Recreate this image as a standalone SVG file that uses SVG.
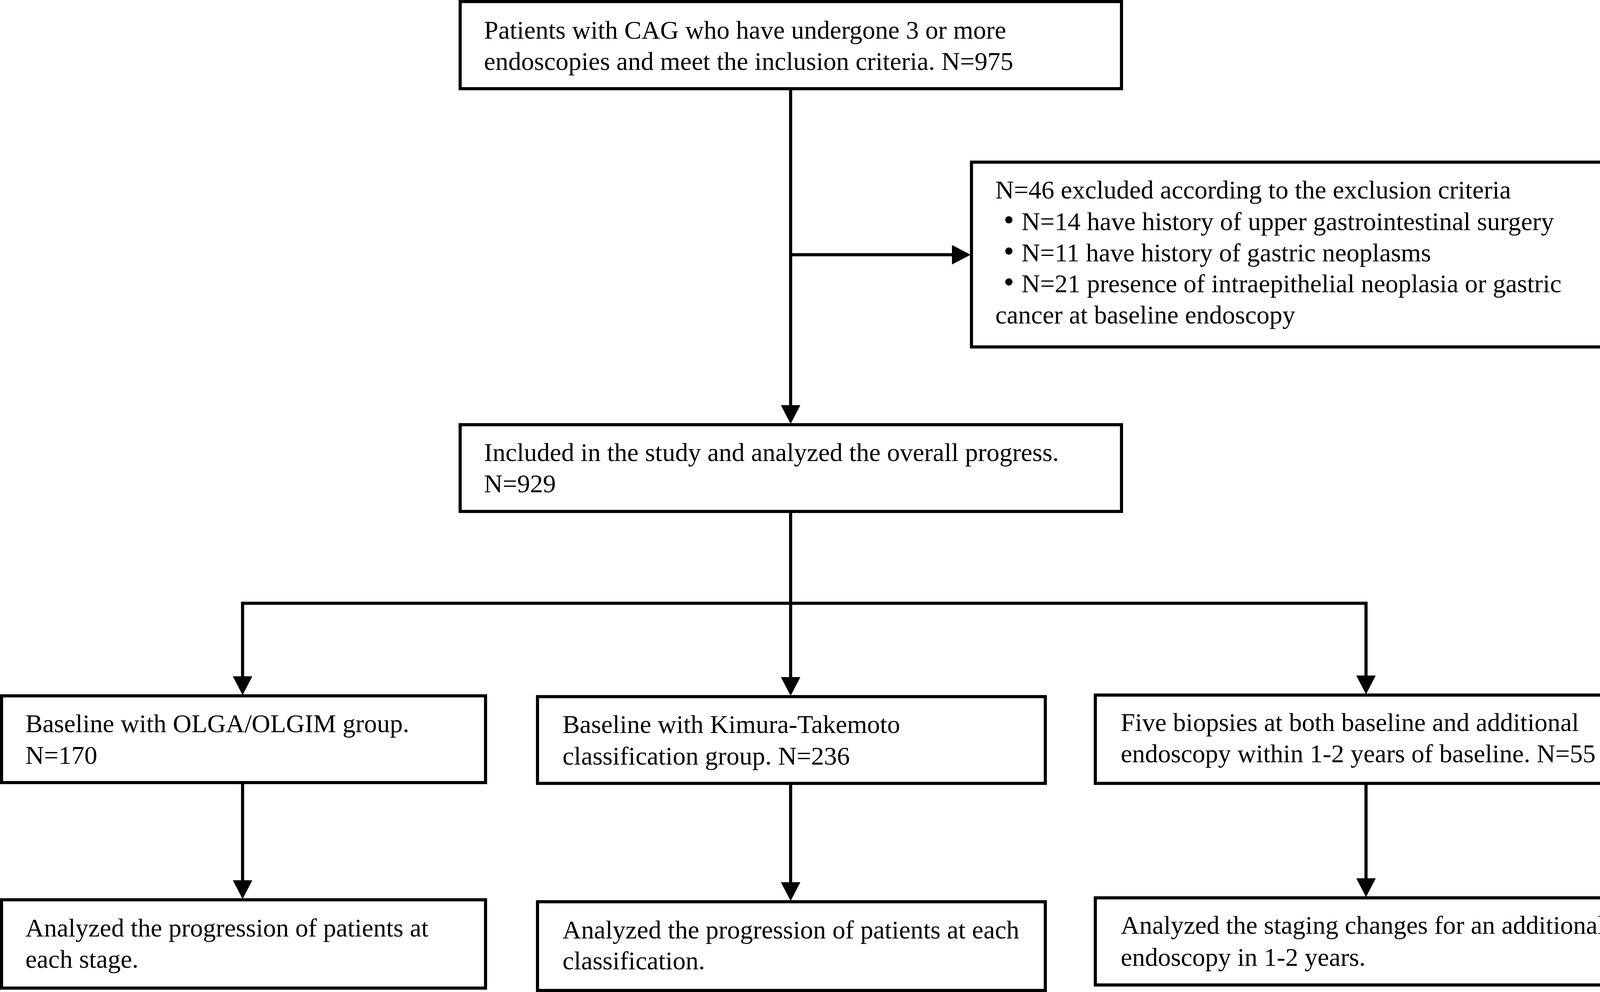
<svg xmlns="http://www.w3.org/2000/svg" width="4196" height="2539" viewBox="0 0 4196 2539">
<defs>
<style>
.box{fill:#fff;stroke:#000;stroke-width:8}
.t{font-family:"Liberation Serif","Times New Roman",serif;font-size:66px;fill:#000}
.b{font-size:78px}
.c{fill:none;stroke:#000;stroke-width:8}
</style>
<marker id="ah" markerUnits="userSpaceOnUse" markerWidth="48" markerHeight="50" refX="0" refY="24" orient="auto" viewBox="0 0 46 48">
<path d="M0,0 L46,24 L0,48 Z" fill="#000"/>
</marker>
</defs>
<rect width="4196" height="2539" fill="#fff"/>
<g id="connectors">
<path class="c" d="M2024,231 V1037" marker-end="url(#ah)"/>
<path class="c" d="M2024,652 H2437" marker-end="url(#ah)"/>
<path class="c" d="M2024,1313 V1733" marker-end="url(#ah)"/>
<path class="c" d="M617,1544 H3501"/>
<path class="c" d="M621,1544 V1731" marker-end="url(#ah)"/>
<path class="c" d="M3497,1544 V1729" marker-end="url(#ah)"/>
<path class="c" d="M621,2007 V2253" marker-end="url(#ah)"/>
<path class="c" d="M2024,2009 V2258" marker-end="url(#ah)"/>
<path class="c" d="M3497,2009 V2248" marker-end="url(#ah)"/>
</g>
<g id="n_start">
<rect class="box" x="1178" y="4" width="1693" height="223"/>
<text class="t" x="1239" y="99">Patients with CAG who have undergone 3 or more</text>
<text class="t" x="1239" y="179">endoscopies and meet the inclusion criteria. N=975</text>
</g>
<g id="n_excluded">
<rect class="box" x="2487" y="415" width="1705" height="473"/>
<text class="t" x="2548" y="508">N=46 excluded according to the exclusion criteria</text>
<text class="t" y="589"><tspan class="b" x="2569">•</tspan><tspan x="2615">N=14 have history of upper gastrointestinal surgery</tspan></text>
<text class="t" y="669"><tspan class="b" x="2569">•</tspan><tspan x="2615">N=11 have history of gastric neoplasms</tspan></text>
<text class="t" y="748"><tspan class="b" x="2569">•</tspan><tspan x="2615">N=21 presence of intraepithelial neoplasia or gastric</tspan></text>
<text class="t" x="2548" y="828">cancer at baseline endoscopy</text>
</g>
<g id="n_included">
<rect class="box" x="1178" y="1087" width="1693" height="222"/>
<text class="t" x="1239" y="1180">Included in the study and analyzed the overall progress.</text>
<text class="t" x="1239" y="1260">N=929</text>
</g>
<g id="n_olga">
<rect class="box" x="4" y="1781" width="1239" height="222"/>
<text class="t" x="65" y="1874">Baseline with OLGA/OLGIM group.</text>
<text class="t" x="65" y="1955">N=170</text>
</g>
<g id="n_kimura">
<rect class="box" x="1376" y="1783" width="1300" height="222"/>
<text class="t" x="1440" y="1876">Baseline with Kimura-Takemoto</text>
<text class="t" x="1440" y="1957">classification group. N=236</text>
</g>
<g id="n_five">
<rect class="box" x="2804" y="1779" width="1388" height="226"/>
<text class="t" x="2869" y="1871">Five biopsies at both baseline and additional</text>
<text class="t" x="2869" y="1951">endoscopy within 1-2 years of baseline. N=55</text>
</g>
<g id="n_stage">
<rect class="box" x="4" y="2303" width="1239" height="226"/>
<text class="t" x="65" y="2397">Analyzed the progression of patients at</text>
<text class="t" x="65" y="2477">each stage.</text>
</g>
<g id="n_class">
<rect class="box" x="1376" y="2308" width="1300" height="227"/>
<text class="t" x="1440" y="2402">Analyzed the progression of patients at each</text>
<text class="t" x="1440" y="2481">classification.</text>
</g>
<g id="n_staging">
<rect class="box" x="2804" y="2298" width="1388" height="223"/>
<text class="t" x="2869" y="2390">Analyzed the staging changes for an additional</text>
<text class="t" x="2869" y="2472">endoscopy in 1-2 years.</text>
</g>
</svg>
